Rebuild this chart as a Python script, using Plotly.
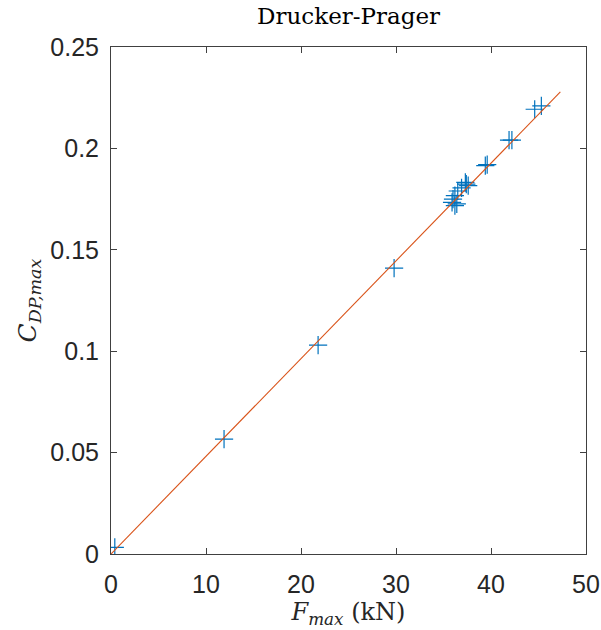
import plotly.graph_objects as go

# Data
f_max = [0.4, 11.9, 21.8, 29.8,
         35.9, 36.0, 36.2, 36.2, 36.4, 36.5, 36.9, 37.3, 37.4, 37.6,
         39.4, 39.6, 41.9, 42.2, 44.6, 45.3]
c_dp = [0.0033, 0.0566, 0.1030, 0.1410,
        0.1734, 0.1750, 0.1767, 0.1718, 0.1726, 0.1790, 0.1805, 0.1832, 0.1824, 0.1816,
        0.1915, 0.1920, 0.2041, 0.2041, 0.2193, 0.2210]
fit_x = [0.0, 47.3]
fit_y = [0.0, 0.2279]

x_ticks = [0, 10, 20, 30, 40, 50]
y_ticks = [0, 0.05, 0.1, 0.15, 0.2, 0.25]
y_tick_text = ["0", "0.05", "0.1", "0.15", "0.2", "0.25"]

fig = go.Figure()
fig.add_trace(go.Scatter(
    x=f_max, y=c_dp, mode="markers",
    marker=dict(symbol="cross-thin", size=13, line=dict(color="#0072BD", width=1.2)),
    showlegend=False))
fig.add_trace(go.Scatter(
    x=fit_x, y=fit_y, mode="lines",
    line=dict(color="#D95319", width=1.1), showlegend=False))

axis_common = dict(
    showgrid=False, zeroline=False, showline=True, linecolor="#404040", linewidth=1,
    mirror="ticks", ticks="inside", ticklen=6, tickcolor="#404040", automargin=False,
    tickfont=dict(family="Liberation Sans, Arial, sans-serif", size=25, color="#262626"),
)
serif = "DejaVu Serif, Liberation Serif, serif"

fig.update_layout(
    width=601, height=630,
    margin=dict(l=111, r=15, t=47, b=76),
    plot_bgcolor="white", paper_bgcolor="white",
    title=dict(text="Drucker-Prager", x=0.58, xanchor="center", xref="container",
               y=1, yref="container", yanchor="top", pad=dict(t=8),
               font=dict(family=serif, size=23, color="black")),
    xaxis=dict(range=[0, 50], tickvals=x_ticks, ticklabelstandoff=8,
               title=dict(text="<i>F</i><sub><i>max</i></sub> (kN)", standoff=4,
                          font=dict(family=serif, size=24, color="#262626")),
               **axis_common),
    yaxis=dict(range=[0, 0.25], tickvals=y_ticks, ticktext=y_tick_text, ticklabelstandoff=6,
               title=dict(text="<i>C</i><sub><i>DP,max</i></sub>", standoff=6,
                          font=dict(family=serif, size=25, color="#262626")),
               **axis_common),
)

fig.write_html("out.html", config={"displayModeBar": False},
               post_script="document.body.style.margin='0px';document.body.style.padding='0px';")
